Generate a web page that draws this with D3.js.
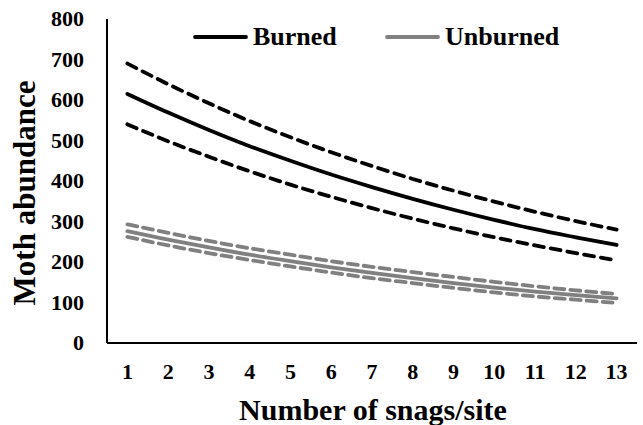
<!DOCTYPE html>
<html>
<head>
<meta charset="utf-8">
<script src="https://cdnjs.cloudflare.com/ajax/libs/d3/7.8.5/d3.min.js"></script>
<style>
  body { margin: 0; background: #fff; }
</style>
</head>
<body>
<div id="chart"></div>
<script>
var width = 643, height = 425;
var fontFam = "Liberation Serif";

// snags per site
var snags = [1, 2, 3, 4, 5, 6, 7, 8, 9, 10, 11, 12, 13];
var yTicks = [0, 100, 200, 300, 400, 500, 600, 700, 800];

// burned: fitted + confidence band
var burned      = [615, 569, 526, 486, 450, 416, 385, 356, 329, 304, 281, 261, 242];
var burnedUpper = [690, 639, 592, 548, 508, 471, 437, 405, 376, 349, 324, 301, 280];
var burnedLower = [540, 498, 460, 424, 391, 361, 333, 307, 283, 261, 241, 222, 204];

// unburned
var unburned      = [276, 255, 236, 218, 202, 187, 173, 160, 148, 137, 127, 118, 110];
var unburnedUpper = [293, 272, 252, 234, 218, 202, 188, 175, 163, 151, 140, 130, 121];
var unburnedLower = [262, 241, 222, 205, 189, 174, 160, 148, 136, 125, 115, 107, 99];

var plotL = 107, plotR = 637, plotT = 19, plotB = 343;

var svg = d3.select("#chart").append("svg")
  .attr("width", width)
  .attr("height", height);

var x = d3.scaleBand()
  .domain(snags)
  .range([plotL, plotR]);

var y = d3.scaleLinear()
  .domain([0, 800])
  .range([plotB, plotT]);

// axes lines
svg.append("line")
  .attr("x1", plotL).attr("x2", plotL)
  .attr("y1", plotT).attr("y2", plotB)
  .attr("stroke", "#000").attr("stroke-width", 2);
svg.append("line")
  .attr("x1", plotL).attr("x2", plotR)
  .attr("y1", plotB).attr("y2", plotB)
  .attr("stroke", "#000").attr("stroke-width", 2);

// y tick labels
svg.selectAll(".ylab")
  .data(yTicks)
  .join("text")
  .attr("class", "ylab")
  .attr("x", 84)
  .attr("y", d => y(d))
  .attr("dy", "0.33em")
  .attr("text-anchor", "end")
  .attr("font-family", fontFam)
  .attr("font-weight", "bold")
  .attr("font-size", 22)
  .text(d => d);

// x tick labels
svg.selectAll(".xlab")
  .data(snags)
  .join("text")
  .attr("class", "xlab")
  .attr("x", d => x(d) + x.bandwidth() / 2)
  .attr("y", 379)
  .attr("text-anchor", "middle")
  .attr("font-family", fontFam)
  .attr("font-weight", "bold")
  .attr("font-size", 22)
  .text(d => d);

// axis titles
svg.append("text")
  .attr("x", 373)
  .attr("y", 420)
  .attr("text-anchor", "middle")
  .attr("font-family", fontFam)
  .attr("font-weight", "bold")
  .attr("font-size", 30)
  .text("Number of snags/site");

svg.append("text")
  .attr("transform", "translate(35,193) rotate(-90)")
  .attr("text-anchor", "middle")
  .attr("font-family", fontFam)
  .attr("font-weight", "bold")
  .attr("font-size", 31)
  .text("Moth abundance");

var line = d3.line()
  .x((d, i) => x(snags[i]) + x.bandwidth() / 2)
  .y(d => y(d))
  .curve(d3.curveMonotoneX);

var series = [
  {v: burnedUpper, c: "#000", dash: "10,7"},
  {v: burnedLower, c: "#000", dash: "10,7"},
  {v: burned, c: "#000", dash: null},
  {v: unburnedUpper, c: "#808080", dash: "10,6"},
  {v: unburnedLower, c: "#808080", dash: "10,6"},
  {v: unburned, c: "#808080", dash: null}
];

svg.selectAll(".series")
  .data(series)
  .join("path")
  .attr("class", "series")
  .attr("d", d => line(d.v))
  .attr("fill", "none")
  .attr("stroke", d => d.c)
  .attr("stroke-width", 3.8)
  .attr("stroke-linecap", "round")
  .attr("stroke-dasharray", d => d.dash);

// legend
var legend = [
  {name: "Burned", c: "#000", x: 195},
  {name: "Unburned", c: "#808080", x: 387}
];
var lg = svg.selectAll(".lg")
  .data(legend)
  .join("g")
  .attr("class", "lg")
  .attr("transform", d => `translate(${d.x},37)`);
lg.append("line")
  .attr("x1", 0).attr("x2", 51)
  .attr("stroke", d => d.c)
  .attr("stroke-width", 3.8)
  .attr("stroke-linecap", "round");
lg.append("text")
  .attr("x", 58)
  .attr("y", 8)
  .attr("font-family", fontFam)
  .attr("font-weight", "bold")
  .attr("font-size", 26)
  .text(d => d.name);
</script>
</body>
</html>
